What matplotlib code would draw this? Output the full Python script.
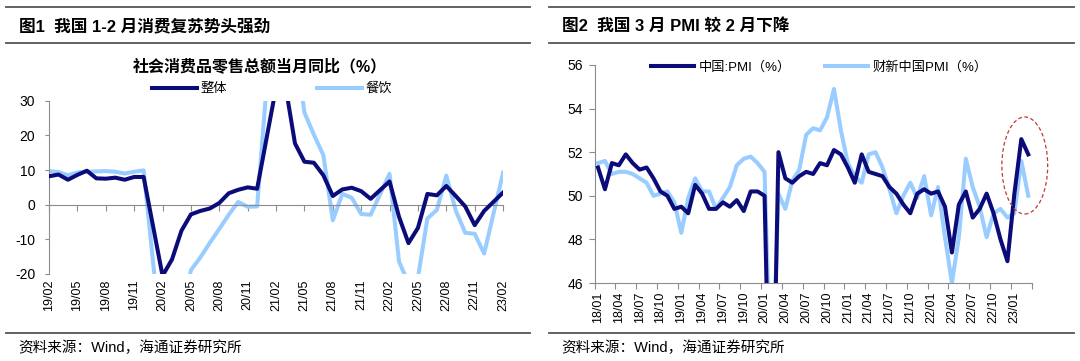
import numpy as np
import matplotlib
matplotlib.use("Agg")
import matplotlib.pyplot as plt
from matplotlib.lines import Line2D
from matplotlib.patches import Ellipse

plt.rcParams['font.family'] = ['Liberation Sans', 'Noto Sans CJK SC']
plt.rcParams['axes.unicode_minus'] = False

NAVY = '#0b0b7a'
LIGHT = '#99ccff'
GRAY = '#8c8c8c'

# ---- 图1 data: 社会消费品零售总额当月同比 (%), 19/02 - 23/02, January not published
retail_months = [f'{y:02d}/{m:02d}' for y in range(19, 24) for m in range(1, 13)][1:50]
retail_total = [
    8.2, 8.7, 7.2, 8.6, 9.8, 7.6, 7.5, 7.8, 7.2, 8.0, 8.0,
    np.nan, -20.5, -15.8, -7.5, -2.8, -1.8, -1.1, 0.5, 3.3, 4.3, 5.0, 4.6,
    np.nan, 33.8, 34.2, 17.7, 12.4, 12.1, 8.5, 2.5, 4.4, 4.9, 3.9, 1.7,
    np.nan, 6.7, -3.5, -11.1, -6.7, 3.1, 2.7, 5.4, 2.5, -0.5, -5.9, -1.8,
    np.nan, 3.5,
]
retail_catering = [
    9.7, 9.4, 8.5, 9.3, 9.5, 9.6, 9.7, 9.5, 9.0, 9.5, 9.9,
    np.nan, -43.1, -46.8, -31.1, -18.9, -15.2, -11.0, -7.0, -2.9, 0.8, -0.6, -0.5,
    np.nan, 68.9, 91.6, 46.4, 26.6, 20.2, 14.3, -4.5, 3.1, 2.0, -2.7, -2.9,
    np.nan, 8.9, -16.4, -22.7, -21.1, -4.0, -1.5, 8.4, -1.7, -8.1, -8.4, -14.1,
    np.nan, 9.2,
]

# ---- 图2 data: PMI (%), 18/01 - 23/03
pmi_months = [f'{y:02d}/{m:02d}' for y in range(18, 24) for m in range(1, 13)][:63]
pmi_official = [
    51.3, 50.3, 51.5, 51.4, 51.9, 51.5, 51.2, 51.3, 50.8, 50.2, 50.0, 49.4,
    49.5, 49.2, 50.5, 50.1, 49.4, 49.4, 49.7, 49.5, 49.8, 49.3, 50.2, 50.2,
    50.0, 35.7, 52.0, 50.8, 50.6, 50.9, 51.1, 51.0, 51.5, 51.4, 52.1, 51.9,
    51.3, 50.6, 51.9, 51.1, 51.0, 50.9, 50.4, 50.1, 49.6, 49.2, 50.1, 50.3,
    50.1, 50.2, 49.5, 47.4, 49.6, 50.2, 49.0, 49.4, 50.1, 49.2, 48.0, 47.0,
    50.1, 52.6, 51.9,
]
pmi_caixin = [
    51.5, 51.6, 51.0, 51.1, 51.1, 51.0, 50.8, 50.6, 50.0, 50.1, 50.2, 49.7,
    48.3, 49.9, 50.8, 50.2, 50.2, 49.4, 49.9, 50.4, 51.4, 51.7, 51.8, 51.5,
    51.1, 40.3, 50.1, 49.4, 50.7, 51.2, 52.8, 53.1, 53.0, 53.6, 54.9, 53.0,
    51.5, 50.9, 50.6, 51.9, 52.0, 51.3, 50.3, 49.2, 50.0, 50.6, 49.9, 50.9,
    49.1, 50.4, 48.1, 46.0, 48.1, 51.7, 50.4, 49.5, 48.1, 49.2, 49.4, 49.0,
    49.2, 51.6, 50.0,
]

fig = plt.figure(figsize=(10.8, 3.61), dpi=100)

# panel frames: rules, titles, sources
for x0, x1 in [(0.006, 0.491), (0.508, 0.994)]:
    for y in (0.9806, 0.881, 0.0776):
        fig.add_artist(Line2D([x0, x1], [y, y], transform=fig.transFigure,
                              color='#555555', lw=1.3))
fig.text(0.0176, 0.928, '图1  我国 1-2 月消费复苏势头强劲', fontsize=12,
         fontweight='bold', va='center')
fig.text(0.520, 0.928, '图2  我国 3 月 PMI 较 2 月下降', fontsize=12,
         fontweight='bold', va='center')
for x in (0.0167, 0.520):
    fig.text(x, 0.036, '资料来源：Wind，海通证券研究所', fontsize=10.5, va='center')

# ---------------- left chart
ax1 = fig.add_axes([0.0454, 0.241, 0.4204, 0.480])
x = np.arange(len(retail_months))
for vals, color, label in [(retail_total, NAVY, '整体'),
                           (retail_catering, LIGHT, '餐饮')]:
    v = np.array(vals, dtype=float)
    m = ~np.isnan(v)
    ax1.plot(x[m], v[m], color=color, lw=2.9, label=label,
             solid_joinstyle='round', zorder=3 if color == NAVY else 2)
ax1.set_xlim(0, len(retail_months) - 1)
ax1.set_ylim(-20, 30)
ax1.set_yticks([-20, -10, 0, 10, 20, 30])
for s in ('top', 'right'):
    ax1.spines[s].set_visible(False)
ax1.spines['left'].set_color(GRAY)
ax1.spines['bottom'].set_position(('data', 0))
ax1.spines['bottom'].set_color(GRAY)
tick_idx = list(range(0, len(retail_months), 3))
ax1.set_xticks(tick_idx)
ax1.tick_params(axis='x', direction='out', length=4, color=GRAY, labelbottom=False)
ax1.tick_params(axis='y', direction='out', length=3, color=GRAY, labelsize=10, pad=7)
sec1 = ax1.secondary_xaxis('bottom')
sec1.set_xticks(tick_idx, labels=[retail_months[i] for i in tick_idx])
sec1.tick_params(length=0, pad=4, labelsize=9, labelrotation=90)
sec1.spines['bottom'].set_visible(False)

fig.text(0.2407, 0.8144, '社会消费品零售总额当月同比（%）', fontsize=11.5,
         fontweight='bold', ha='center', va='center')
ax1.legend(loc='center', bbox_to_anchor=(0.252, 0.7535), bbox_transform=fig.transFigure,
           ncol=2, frameon=False, fontsize=9.5, handlelength=3.4, handletextpad=0.3,
           columnspacing=6.8, borderpad=0)

# ---------------- right chart
ax2 = fig.add_axes([0.5505, 0.216, 0.4048, 0.604])
xp = np.arange(len(pmi_months)) + 0.5
ax2.plot(xp, pmi_caixin, color=LIGHT, lw=2.9, label='财新中国PMI（%）', zorder=2)
ax2.plot(xp, pmi_official, color=NAVY, lw=2.9, label='中国:PMI（%）', zorder=3)
ax2.set_xlim(0, len(pmi_months))
ax2.set_ylim(46, 56)
ax2.set_yticks(range(46, 57, 2))
for s in ('top', 'right'):
    ax2.spines[s].set_visible(False)
ax2.spines['left'].set_color(GRAY)
ax2.spines['bottom'].set_color(GRAY)
ax2.set_xticks(range(0, len(pmi_months) + 1, 3))
ax2.set_xticks(np.arange(0, len(pmi_months), 3) + 0.5, minor=True)
ax2.set_xticklabels([], minor=False)
ax2.set_xticklabels([pmi_months[i] for i in range(0, len(pmi_months), 3)],
                    minor=True, rotation=90)
ax2.tick_params(axis='x', which='major', direction='out', length=4, color=GRAY)
ax2.tick_params(axis='x', which='minor', length=0, pad=6, labelsize=9)
ax2.tick_params(axis='y', direction='out', length=4, color=GRAY, labelsize=10, pad=4)

ax2.add_patch(Ellipse((62.0, 51.39), 6.6, 4.45, fill=False, ls=(0, (3, 2)),
                      lw=0.9, edgecolor='#c0393b', zorder=4, clip_on=False))

h, l = ax2.get_legend_handles_labels()
ax2.legend(h[::-1], l[::-1], loc='center', bbox_to_anchor=(0.759, 0.8144),
           bbox_transform=fig.transFigure, ncol=2, frameon=False, fontsize=9.5,
           handlelength=3.2, handletextpad=0.4, columnspacing=2.6, borderpad=0)

fig.savefig('out.png', dpi=100)
